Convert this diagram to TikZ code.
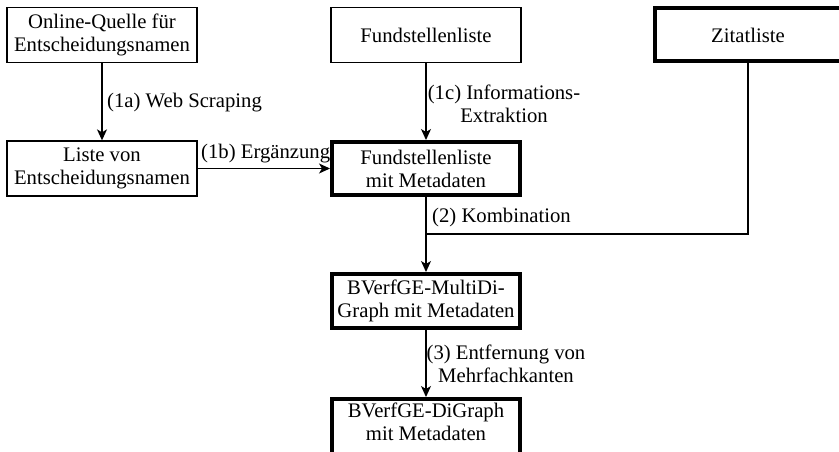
\documentclass[tikz,border=0pt]{standalone}
\usepackage{fontspec}
\setmainfont{Liberation Serif}
\usetikzlibrary{arrows.meta}
\begin{document}
\begin{tikzpicture}[x=1pt,y=1pt,
  every node/.style={font=\fontsize{20.7}{23}\selectfont, inner sep=0pt},
  box/.style={draw, line width=1.3pt, minimum width=190pt, minimum height=55pt, align=center},
  thickbox/.style={draw, line width=4pt, minimum width=188pt, minimum height=53pt, align=center},
  lbl/.style={align=center},
  arr/.style={line width=1.3pt, -{Stealth[length=11pt,width=10pt,inset=3pt]}},
  conn/.style={line width=1.3pt}]
\useasboundingbox (0,0) rectangle (839,-452);
\node[box] (src) at (102,-35) {Online-Quelle für\\Entscheidungsnamen};
\node[box] (liste) at (102,-168.5) {Liste von\\Entscheidungsnamen};
\node[box] (fund) at (426,-35) {Fundstellenliste};
\node[thickbox] (fundm) at (426,-168.5) {Fundstellenliste\\mit Metadaten};
\node[thickbox, minimum width=186pt] (zitat) at (748,-35) {Zitatliste};
\node[thickbox, minimum height=54pt] (multi) at (426,-301) {BVerfGE-MultiDi-\\Graph mit Metadaten};
\node[thickbox, minimum height=60pt] (di) at (426,-429) {};
\node[lbl] (ditext) at (426,-422) {BVerfGE-DiGraph\\mit Metadaten};
\coordinate (j) at (426,-234);
\draw[arr] (src) -- (liste);
\draw[arr] (liste) -- (fundm);
\draw[arr] (fund) -- (fundm);
\draw[arr] (fundm) -- (multi);
\draw[conn] (zitat) |- (j);
\draw[arr] (multi) -- (di);
\node[anchor=base west] (l1a) at (107,-107) {(1a) Web Scraping};
\node[anchor=base west] (l1b) at (201,-158) {(1b) Ergänzung};
\node[lbl] (l1c) at (504,-104) {(1c) Informations-\\Extraktion};
\node[anchor=base west] (l2) at (432,-222) {(2) Kombination};
\node[lbl] (l3) at (506,-363.5) {(3) Entfernung von\\Mehrfachkanten};
\end{tikzpicture}
\end{document}
